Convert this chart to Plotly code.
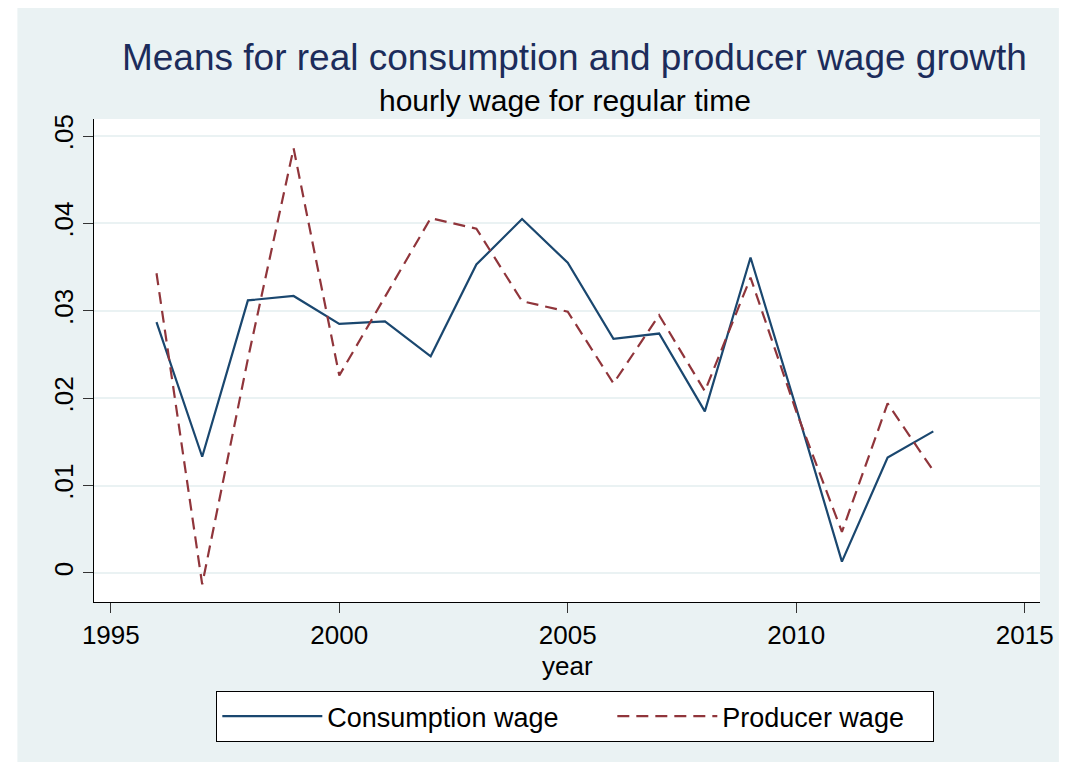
import plotly.graph_objects as go

years = list(range(1996, 2014))
consumption_wage = [0.0287, 0.0133, 0.0312, 0.0317, 0.0285, 0.0288, 0.0248, 0.0353, 0.0405,
                    0.0355, 0.0268, 0.0274, 0.0185, 0.0361, 0.0189, 0.0013, 0.0132, 0.0162]
producer_wage = [0.0343, -0.0013, 0.0245, 0.0486, 0.0226, 0.0316, 0.0406, 0.0394, 0.0311,
                 0.0299, 0.0217, 0.0295, 0.0208, 0.0338, 0.0185, 0.0047, 0.0194, 0.0117]
x_ticks = [1995, 2000, 2005, 2010, 2015]
y_ticks = [0, 0.01, 0.02, 0.03, 0.04, 0.05]
y_ticklabels = ["0", ".01", ".02", ".03", ".04", ".05"]

BG = "#EAF2F3"
NAVY = "#1A476F"
MAROON = "#90353B"
FONT = "Liberation Sans, Arial, sans-serif"

fig = go.Figure()
fig.add_trace(go.Scatter(x=years, y=consumption_wage, mode="lines", name="Consumption wage",
                         line=dict(color=NAVY, width=2.2), legendwidth=280))
fig.add_trace(go.Scatter(x=years, y=producer_wage, mode="lines", name="Producer wage",
                         line=dict(color=MAROON, width=2.2, dash="12px,7px"), legendwidth=206))

fig.update_layout(
    width=1058, height=754,
    margin=dict(l=86, r=21, t=111, b=160),
    paper_bgcolor="white", plot_bgcolor="white",
    font=dict(family=FONT, size=26, color="black"),
    title=dict(text="Means for real consumption and producer wage growth",
               font=dict(family=FONT, size=37, color="#1C2C5B"),
               x=0.5354, xanchor="center", y=0.935, yanchor="middle"),
    showlegend=True,
    legend=dict(orientation="h", x=0.1293, xanchor="left", y=-0.1843, yanchor="top",
                bordercolor="black", borderwidth=1, bgcolor="white", itemwidth=100,
                font=dict(family=FONT, size=27, color="black")),
    shapes=[
        dict(type="rect", xref="paper", yref="paper", x0=-0.08097, x1=1.01998,
             y0=-0.33126, y1=1.22981, fillcolor=BG, line=dict(width=0), layer="below"),
        dict(type="rect", xref="paper", yref="paper", x0=0, x1=1, y0=0, y1=1,
             fillcolor="white", line=dict(width=0), layer="below"),
    ],
    annotations=[
        dict(text="hourly wage for regular time", xref="paper", yref="paper",
             x=0.4984, y=1.0393, xanchor="center", yanchor="middle",
             showarrow=False, font=dict(family=FONT, size=30, color="black")),
        dict(text="year", xref="paper", yref="paper",
             x=0.5005, y=-0.133, xanchor="center", yanchor="middle",
             showarrow=False, font=dict(family=FONT, size=26, color="black")),
    ],
)

fig.update_xaxes(range=[1994.632, 2015.335], tickvals=x_ticks, ticktext=[str(v) for v in x_ticks],
                 showgrid=False, zeroline=False, showline=True, linecolor="black", linewidth=1,
                 ticks="outside", ticklen=10, tickcolor="#333333", tickwidth=1,
                 ticklabelstandoff=0,
                 tickfont=dict(family=FONT, size=26, color="black"))
fig.update_yaxes(range=[-0.00332, 0.05195], tickvals=y_ticks, ticktext=y_ticklabels, tickangle=-90,
                 showgrid=True, gridcolor=BG, gridwidth=2, zeroline=False,
                 showline=True, linecolor="black", linewidth=1,
                 ticks="outside", ticklen=10, tickcolor="#333333", tickwidth=1,
                 tickfont=dict(family=FONT, size=26, color="black"))

fig.write_html("out.html")
